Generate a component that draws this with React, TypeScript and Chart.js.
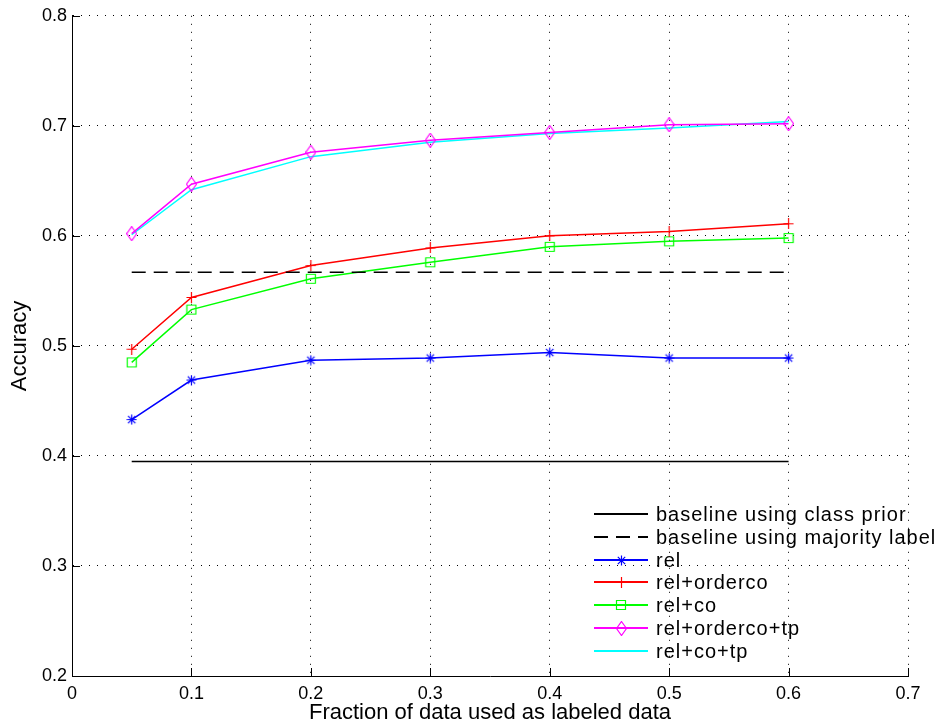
import React, { useEffect, useRef } from "react";
import { Chart, registerables } from "chart.js";

Chart.register(...registerables);

const fractions = [0.05, 0.1, 0.2, 0.3, 0.4, 0.5, 0.6];
const rel = [0.433, 0.469, 0.487, 0.489, 0.494, 0.489, 0.489];
const relOrderco = [0.497, 0.544, 0.573, 0.589, 0.6, 0.604, 0.611];
const relCo = [0.485, 0.533, 0.561, 0.576, 0.59, 0.595, 0.598];
const relOrdercoTp = [0.602, 0.647, 0.676, 0.687, 0.694, 0.701, 0.702];
const relCoTp = [0.601, 0.642, 0.672, 0.685, 0.693, 0.698, 0.704];
const baselineRange = [0.05, 0.6];
const classPrior = 0.395;
const majorityLabel = 0.567;
const seriesLabels = [
  "baseline using class prior",
  "baseline using majority label",
  "rel",
  "rel+orderco",
  "rel+co",
  "rel+orderco+tp",
  "rel+co+tp",
];
const xTicks = [0, 0.1, 0.2, 0.3, 0.4, 0.5, 0.6, 0.7];
const yTicks = [0.2, 0.3, 0.4, 0.5, 0.6, 0.7, 0.8];

const FONT = "'Liberation Sans', Arial, Helvetica, sans-serif";

function makeMarker(kind: string, color: string): HTMLCanvasElement {
  const c = document.createElement("canvas");
  const w = kind === "square" ? 12 : 11;
  const h = kind === "diamond" ? 15 : w;
  c.width = w;
  c.height = h;
  const ctx = c.getContext("2d")!;
  ctx.strokeStyle = color;
  ctx.lineWidth = 1.2;
  const cx = w / 2;
  const cy = h / 2;
  ctx.beginPath();
  if (kind === "star") {
    ctx.moveTo(cx, 0.5); ctx.lineTo(cx, h - 0.5);
    ctx.moveTo(0.5, cy); ctx.lineTo(w - 0.5, cy);
    ctx.moveTo(1.8, 1.8); ctx.lineTo(w - 1.8, h - 1.8);
    ctx.moveTo(w - 1.8, 1.8); ctx.lineTo(1.8, h - 1.8);
  } else if (kind === "plus") {
    ctx.moveTo(cx, 0); ctx.lineTo(cx, h);
    ctx.moveTo(0.5, cy); ctx.lineTo(w - 0.5, cy);
  } else if (kind === "square") {
    ctx.rect(1.5, 1.5, w - 3, h - 3);
  } else if (kind === "diamond") {
    ctx.moveTo(cx, 0.5);
    ctx.lineTo(w - 0.5, cy);
    ctx.lineTo(cx, h - 0.5);
    ctx.lineTo(0.5, cy);
    ctx.closePath();
  }
  ctx.stroke();
  return c;
}

function pts(ys: number[]) {
  return fractions.map((x, i) => ({ x, y: ys[i] }));
}

export default function App() {
  const ref = useRef<HTMLCanvasElement>(null);

  useEffect(() => {
    document.body.style.margin = "0";
    const canvas = ref.current!;
    const markers = {
      star: makeMarker("star", "#0000ff"),
      plus: makeMarker("plus", "#ff0000"),
      square: makeMarker("square", "#00ff00"),
      diamond: makeMarker("diamond", "#ff00ff"),
    };

    const datasets: any[] = [
      {
        label: seriesLabels[0],
        data: baselineRange.map((x) => ({ x, y: classPrior })),
        borderColor: "#000000",
        borderWidth: 1.5,
        pointRadius: 0,
      },
      {
        label: seriesLabels[1],
        data: baselineRange.map((x) => ({ x, y: majorityLabel })),
        borderColor: "#000000",
        borderWidth: 1.5,
        borderDash: [14, 8],
        pointRadius: 0,
      },
      {
        label: seriesLabels[2],
        data: pts(rel),
        borderColor: "#0000ff",
        borderWidth: 1.5,
        pointStyle: markers.star,
        pointRadius: 5,
        marker: markers.star,
      },
      {
        label: seriesLabels[3],
        data: pts(relOrderco),
        borderColor: "#ff0000",
        borderWidth: 1.5,
        pointStyle: markers.plus,
        pointRadius: 5,
        marker: markers.plus,
      },
      {
        label: seriesLabels[4],
        data: pts(relCo),
        borderColor: "#00ff00",
        borderWidth: 1.5,
        pointStyle: markers.square,
        pointRadius: 5,
        marker: markers.square,
      },
      {
        label: seriesLabels[5],
        data: pts(relOrdercoTp),
        borderColor: "#ff00ff",
        borderWidth: 1.5,
        pointStyle: markers.diamond,
        pointRadius: 6,
        marker: markers.diamond,
      },
      {
        label: seriesLabels[6],
        data: pts(relCoTp),
        borderColor: "#00ffff",
        borderWidth: 1.5,
        pointRadius: 0,
      },
    ];
    datasets.forEach((d) => {
      d.fill = false;
      d.tension = 0;
      d.showLine = true;
      d.pointHoverRadius = d.pointRadius;
    });

    const innerTicks = {
      id: "innerTicks",
      afterDraw(chart: any) {
        const { ctx, chartArea, scales } = chart;
        ctx.save();
        ctx.strokeStyle = "#000";
        ctx.lineWidth = 1;
        ctx.beginPath();
        for (const v of yTicks) {
          const y = Math.round(scales.y.getPixelForValue(v)) + 0.5;
          ctx.moveTo(chartArea.left, y);
          ctx.lineTo(chartArea.left + 8, y);
        }
        for (const v of xTicks) {
          const x = Math.round(scales.x.getPixelForValue(v)) + 0.5;
          ctx.moveTo(x, chartArea.bottom);
          ctx.lineTo(x, chartArea.bottom - 8);
        }
        ctx.stroke();

        // legend
        const left = 594;
        const lineEnd = 648;
        const textX = 656;
        const top0 = 514;
        const step = 22.8;
        ctx.font = `20px ${FONT}`;
        try {
          (ctx as any).letterSpacing = "1px";
        } catch (e) {}
        ctx.textBaseline = "middle";
        ctx.textAlign = "left";
        chart.data.datasets.forEach((d: any, i: number) => {
          const y = Math.round(top0 + i * step);
          ctx.save();
          ctx.strokeStyle = d.borderColor;
          ctx.lineWidth = 2;
          ctx.setLineDash(d.borderDash ? [14, 8] : []);
          ctx.beginPath();
          ctx.moveTo(left, y);
          ctx.lineTo(lineEnd, y);
          ctx.stroke();
          ctx.restore();
          if (d.marker) {
            const m = d.marker as HTMLCanvasElement;
            ctx.drawImage(m, Math.round((left + lineEnd) / 2 - m.width / 2), Math.round(y - m.height / 2));
          }
          ctx.fillStyle = "#000";
          ctx.fillText(d.label, textX, y + 1);
        });
        ctx.restore();
      },
    };

    const chart = new Chart(canvas, {
      type: "line",
      data: { datasets },
      options: {
        animation: false,
        responsive: false,
        maintainAspectRatio: false,
        layout: { padding: { top: 13, right: 30, left: 0, bottom: 0 } },
        plugins: {
          legend: { display: false },
          tooltip: { enabled: false },
        },
        scales: {
          x: {
            type: "linear",
            min: 0,
            max: 0.7,
            afterFit: (s: any) => {
              s.height = 50;
            },
            afterBuildTicks: (s: any) => {
              s.ticks = xTicks.map((v) => ({ value: v }));
            },
            ticks: {
              color: "#000",
              font: { family: FONT, size: 18 },
              padding: 7,
              autoSkip: false,
              maxRotation: 0,
              callback: (v: any) => String(Number(Number(v).toFixed(1))),
            },
            grid: { color: "#000", lineWidth: 1, drawTicks: false },
            border: { display: true, color: "#000", width: 1, dash: [1, 7] },
            title: {
              display: true,
              text: "Fraction of data used as labeled data",
              color: "#000",
              font: { family: FONT, size: 22 },
              padding: { top: 0, bottom: 0 },
            },
          },
          y: {
            type: "linear",
            min: 0.2,
            max: 0.8,
            afterFit: (s: any) => {
              s.width = 72;
            },
            afterBuildTicks: (s: any) => {
              s.ticks = yTicks.map((v) => ({ value: v }));
            },
            ticks: {
              color: "#000",
              font: { family: FONT, size: 18 },
              padding: 5,
              autoSkip: false,
              callback: (v: any) => String(Number(Number(v).toFixed(1))),
            },
            grid: { color: "#000", lineWidth: 1, drawTicks: false },
            border: { display: true, color: "#000", width: 1, dash: [1, 7] },
            title: {
              display: true,
              text: "Accuracy",
              color: "#000",
              font: { family: FONT, size: 22 },
              padding: { top: 7, bottom: 0 },
            },
          },
        },
      },
      plugins: [innerTicks],
    } as any);

    return () => chart.destroy();
  }, []);

  return <canvas ref={ref} width={938} height={726} style={{ display: "block" }} />;
}
